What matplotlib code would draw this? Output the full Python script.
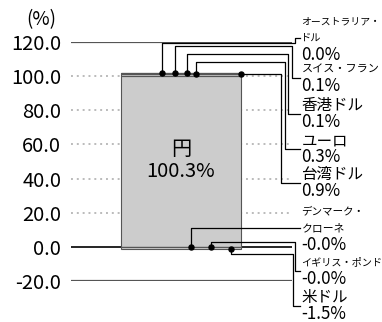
import matplotlib.pyplot as plt

plt.rcParams['font.family'] = ['Noto Sans CJK JP', 'DejaVu Sans']

# currency weights (%), stacked in this order
currencies = ['円', '台湾ドル', 'ユーロ', '香港ドル', 'スイス・フラン',
              'オーストラリア・ドル', 'デンマーク・クローネ', 'イギリス・ポンド', '米ドル']
weights = [100.3, 0.9, 0.3, 0.1, 0.1, 0.0, -0.0, -0.0, -1.5]
# how each name is broken in the side labels
name_lines = {
    'オーストラリア・ドル': ['オーストラリア・', 'ドル'],
    'デンマーク・クローネ': ['デンマーク・', 'クローネ'],
}
yticks = [-20, 0, 20, 40, 60, 80, 100, 120]

# side label layout: slot y (data), dot x on bar, elbow level, vertical x, name font sizes
layout = {
    'オーストラリア・ドル': (122.3, -0.158, 119.6, 0.95, [7.1, 7.4]),
    'スイス・フラン': (98.9, -0.05, 117.8, 0.925, [8]),
    '香港ドル': (77.8, 0.05, 113.0, 0.89, [11.2]),
    'ユーロ': (57.3, 0.125, 108.2, 0.865, [11.2]),
    '台湾ドル': (37.4, 0.5, None, 0.833, [11.2]),
    'デンマーク・クローネ': (11.0, 0.083, 11.0, None, [7.6, 7.8]),
    'イギリス・ポンド': (-14.1, 0.25, 2.85, 0.95, [7.3]),
    '米ドル': (-34.6, 0.417, -4.2, 0.93, [11.2]),
}
label_x = 0.992

fig = plt.figure(figsize=(3.82, 3.22), dpi=100)
ax = fig.add_axes([71 / 382, 41 / 322, 221 / 382, 239 / 322])
ax.set_xlim(-110 / 120, 111 / 120)
ax.set_ylim(-20, 120)

# reference lines
for v in yticks:
    if v in (120, -20):
        ax.axhline(v, color='#555555', lw=1.6, zorder=1)
    elif v == 0:
        ax.axhline(v, color='black', lw=1.2, zorder=1)
    else:
        ax.axhline(v, color='#bbbbbb', lw=1.4, ls=(0, (1, 2)), zorder=1)

# stacked bar
pos_base, neg_base = 0.0, 0.0
ends = {}
for name, w in zip(currencies, weights):
    if name in ('デンマーク・クローネ', 'イギリス・ポンド', '米ドル'):
        bottom = neg_base
        neg_base += w
        ends[name] = neg_base
    else:
        bottom = pos_base
        pos_base += w
        ends[name] = pos_base
    ax.bar(0, w, bottom=bottom, width=1, color='#cccccc',
           edgecolor='#555555', lw=0.8, zorder=2)

ax.text(0, weights[0] / 2 + 0.5, currencies[0], ha='center', va='bottom', fontsize=14.5, zorder=6)
ax.text(0, weights[0] / 2, f'{weights[0]:.1f}%', ha='center', va='top', fontsize=14.5, zorder=6)

# leaders and side labels
line_step = 11.9
for name, w in zip(currencies[1:], weights[1:]):
    slot, dx, level, vx, sizes = layout[name]
    dy = ends[name]
    if level is None:
        level = dy
    if vx is None:
        xs, ys = [dx, dx, label_x], [dy, level, level]
    else:
        xs = [dx, dx, vx, vx, label_x]
        ys = [dy, level, level, slot, slot]
    ax.plot(xs, ys, color='black', lw=0.9, clip_on=False, zorder=4)
    ax.plot(dx, dy, 'o', ms=3.6, color='black', clip_on=False, zorder=5)

    lines = name_lines.get(name, [name]) + [f'{w:.1f}%']
    fs = sizes + [12.2]
    n = len(lines)
    for i, (txt, s) in enumerate(zip(lines, fs)):
        ax.annotate(txt, (label_x, slot), xytext=(1, ((n - 1) / 2 - i) * line_step),
                    textcoords='offset points', ha='left', va='center',
                    fontsize=s, annotation_clip=False)

ax.set_yticks(yticks, [f'{v:.1f}' for v in yticks])
ax.set_xticks([])
ax.tick_params(length=0, pad=7, labelsize=14.5)
for s in ax.spines.values():
    s.set_visible(False)

ax.text(-0.136, 1.092, '(%)', transform=ax.transAxes, ha='center', va='center', fontsize=13.5)

fig.savefig('out.png', dpi=100)
